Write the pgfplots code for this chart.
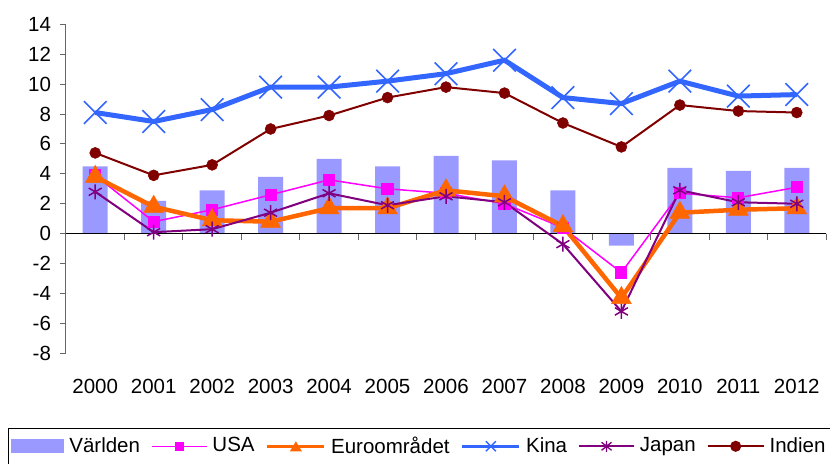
\documentclass[border=0pt]{standalone}
\usepackage{fontspec}
\setmainfont{Liberation Sans}
\usepackage{pgfplots}
\pgfplotsset{compat=1.18}

\definecolor{cWorld}{HTML}{9999FF}
\definecolor{cUSA}{HTML}{FF00FF}
\definecolor{cEuro}{HTML}{FF6600}
\definecolor{cKina}{HTML}{3366FF}
\definecolor{cJapan}{HTML}{800080}
\definecolor{cIndien}{HTML}{800000}

% BNP-tillväxt, procent (x = 0 ... 12 motsvarar 2000 ... 2012)
\pgfplotstableread{
x  varld  usa  euro  kina  japan  indien
0   4.5   3.9   3.8   8.1   2.8   5.4
1   2.2   0.8   1.8   7.5   0.1   3.9
2   2.9   1.6   0.9   8.3   0.3   4.6
3   3.8   2.6   0.8   9.8   1.4   7.0
4   5.0   3.6   1.7   9.8   2.7   7.9
5   4.5   3.0   1.7  10.2   1.9   9.1
6   5.2   2.7   2.9  10.7   2.5   9.8
7   4.9   2.0   2.5  11.6   2.1   9.4
8   2.9   0.4   0.5   9.1  -0.7   7.4
9  -0.8  -2.6  -4.3   8.7  -5.2   5.8
10  4.4   2.7   1.4  10.2   2.9   8.6
11  4.2   2.4   1.6   9.2   2.1   8.2
12  4.4   3.1   1.7   9.3   2.0   8.1
}\datatable

\begin{document}
\fontsize{20.5bp}{24bp}\selectfont
\begin{tikzpicture}
\begin{axis}[
    scale only axis,
    width=760bp, height=329bp,
    xmin=-0.5, xmax=12.5,
    ymin=-8, ymax=14,
    clip=false,
    axis x line=bottom,
    axis y line=left,
    x axis line style={draw=none, -},
    y axis line style={draw=gray!80!black, line width=1bp, -},
    xtick=data,
    xticklabels={2000,2001,2002,2003,2004,2005,2006,2007,2008,2009,2010,2011,2012},
    xtick style={draw=none},
    xticklabel style={yshift=-13bp},
    ytick={-8,-6,...,14},
    ytick style={draw=gray!80!black, line width=1bp},
    tick align=outside,
    major tick length=6bp,
    yticklabel style={xshift=-2bp},
    tick label style={font=\fontsize{20.5bp}{24bp}\selectfont},
    /pgf/number format/assume math mode=true,
    legend columns=6,
    legend style={
        at={(axis description cs:0.465,-0.227)}, anchor=north,
        draw=black, line width=1bp,
        font=\fontsize{20.5bp}{24bp}\selectfont,
        inner xsep=3bp, inner ysep=6bp,
        /tikz/every odd column/.append style={column sep=3bp},
        /tikz/every even column/.append style={column sep=9bp},
    },
]
\coordinate (o) at (rel axis cs:0,0);

\addplot[ybar, bar width=25bp, fill=cWorld, draw=none,
    legend image code/.code={\fill[cWorld] (0bp,-7bp) rectangle (53bp,7bp);}]
    table[x=x, y=varld] {\datatable};
\addlegendentry{Världen}

\draw[black, line width=1.3bp] (axis cs:-0.5,0) -- (axis cs:12.5,0);
\pgfplotsinvokeforeach{0.5,1.5,2.5,3.5,4.5,5.5,6.5,7.5,8.5,9.5,10.5,11.5,12.5}{
    \draw[gray!80!black, line width=1bp] (axis cs:#1,0) -- ([yshift=-6bp]axis cs:#1,0);
}

\addplot[cUSA, line width=1.5bp, mark=square*, mark size=5.3bp,
    mark options={solid},
    legend image code/.code={
        \draw[cUSA, line width=1.5bp] (0bp,0bp) -- (55bp,0bp);
        \fill[cUSA] (23.5bp,-4bp) rectangle (31.5bp,4bp);}]
    table[x=x, y=usa] {\datatable};
\addlegendentry{USA}

\addplot[cEuro, line width=4.5bp, mark=triangle*, mark size=11.5bp,
    mark options={line width=0.5bp},
    legend image code/.code={
        \draw[cEuro, line width=3.5bp] (0bp,0bp) -- (57bp,0bp);
        \path[fill=cEuro, draw=none] (28.5bp,5bp) -- (34.5bp,-5bp) -- (22.5bp,-5bp) -- cycle;}]
    table[x=x, y=euro] {\datatable};
\addlegendentry{Euroområdet}

\addplot[cKina, line width=5bp, mark=x, mark size=16bp,
    mark options={line width=1.6bp},
    legend image code/.code={
        \draw[cKina, line width=3.5bp] (0bp,0bp) -- (57bp,0bp);
        \draw[cKina, line width=1.3bp] (23.5bp,-5bp) -- (33.5bp,5bp)
            (23.5bp,5bp) -- (33.5bp,-5bp);}]
    table[x=x, y=kina] {\datatable};
\addlegendentry{Kina}

\addplot[cJapan, line width=2bp, mark=asterisk, mark size=7.5bp,
    mark options={line width=1.5bp},
    legend image code/.code={
        \draw[cJapan, line width=1.8bp] (0bp,0bp) -- (55bp,0bp);
        \draw[cJapan, line width=1.3bp] (27.5bp,-5.5bp) -- (27.5bp,5.5bp)
            (22.5bp,-4bp) -- (32.5bp,4bp) (22.5bp,4bp) -- (32.5bp,-4bp);}]
    table[x=x, y=japan] {\datatable};
\addlegendentry{Japan}

\addplot[cIndien, line width=2bp, mark=*, mark size=5.5bp,
    mark options={line width=0.5bp},
    legend image code/.code={
        \draw[cIndien, line width=1.8bp] (0bp,0bp) -- (56bp,0bp);
        \fill[cIndien] (28bp,0bp) circle (4.5bp);}]
    table[x=x, y=indien] {\datatable};
\addlegendentry{Indien}
\end{axis}
\pgfresetboundingbox
\path (o) ++(-66bp,-110.7bp) rectangle ++(830bp,464bp);
\end{tikzpicture}
\end{document}
